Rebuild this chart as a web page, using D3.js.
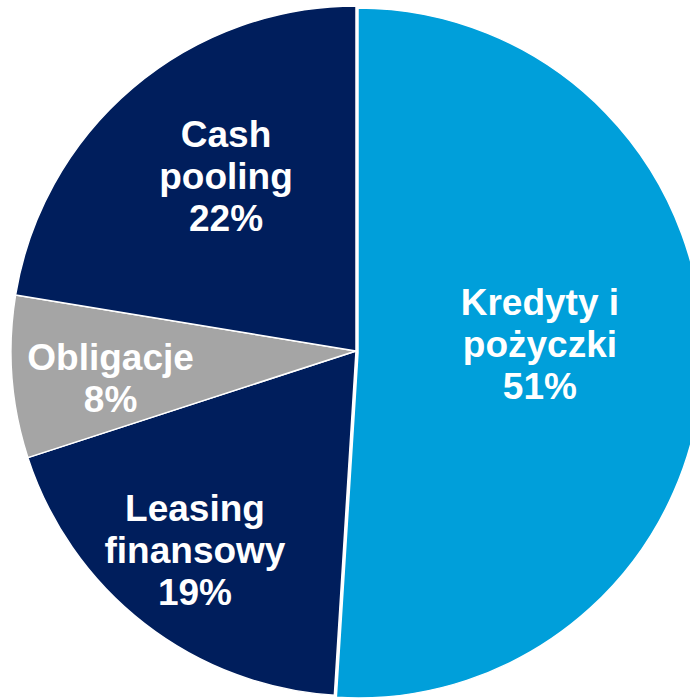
<!DOCTYPE html>
<html>
<head>
<meta charset="utf-8">
<script src="https://cdn.jsdelivr.net/npm/d3@7/dist/d3.min.js"></script>
<style>
  html, body { margin: 0; padding: 0; background: #ffffff; }
  svg { display: block; }
</style>
</head>
<body>
<svg id="chart" width="690" height="698"></svg>
<script>
// ---- data ----
const categories = ["Kredyty i pożyczki", "Leasing finansowy", "Obligacje", "Cash pooling"];
const labelLines = [["Kredyty i", "pożyczki"], ["Leasing", "finansowy"], ["Obligacje"], ["Cash", "pooling"]];
const values = [51, 19, 7.6, 22.4];
const percentLabels = ["51%", "19%", "8%", "22%"];

// ---- style / layout ----
const colors = ["#009fda", "#001e5c", "#a5a5a5", "#001e5c"];
const W = 690, H = 698;
const cx = 356, cy = 351, R = 345;
const explode = [[2, 2], [0, 0], [0, 0], [0, 0]];
// label anchor: polar (degrees clockwise from top, radius in px)
const labelPolar = [[88.1, 184], [218.8, 257], [263.5, 247], [323.2, 217]];
const fontSize = 37, lineGap = 42;

const svg = d3.select("#chart");
const g = svg.append("g").attr("transform", `translate(${cx},${cy})`);

const pie = d3.pie().sort(null).value(d => d.value).startAngle(0).endAngle(2 * Math.PI);
const arcs = pie(values.map((v, i) => ({ value: v, i })));
const arc = d3.arc().innerRadius(0).outerRadius(R);

g.selectAll("path.slice")
  .data(arcs)
  .join("path")
  .attr("class", "slice")
  .attr("d", arc)
  .attr("transform", d => `translate(${explode[d.data.i][0]},${explode[d.data.i][1]})`)
  .attr("fill", d => colors[d.data.i])
  .attr("stroke", "#ffffff")
  .attr("stroke-width", 1.5)
  .attr("stroke-linejoin", "round");

g.selectAll("text.lbl")
  .data(arcs)
  .join("text")
  .attr("class", "lbl")
  .attr("text-anchor", "middle")
  .attr("fill", "#ffffff")
  .attr("font-family", "'Liberation Sans', Arial, sans-serif")
  .attr("font-weight", "bold")
  .attr("font-size", fontSize)
  .each(function (d) {
    const i = d.data.i;
    const [a, r] = labelPolar[i];
    const [px, py] = d3.pointRadial(a * Math.PI / 180, r);
    const lines = labelLines[i].concat([percentLabels[i]]);
    const n = lines.length;
    const t = d3.select(this);
    lines.forEach((ln, k) => {
      t.append("tspan")
        .attr("x", px)
        .attr("y", py + (k - (n - 1) / 2) * lineGap + 12)
        .text(ln);
    });
  });
</script>
</body>
</html>
